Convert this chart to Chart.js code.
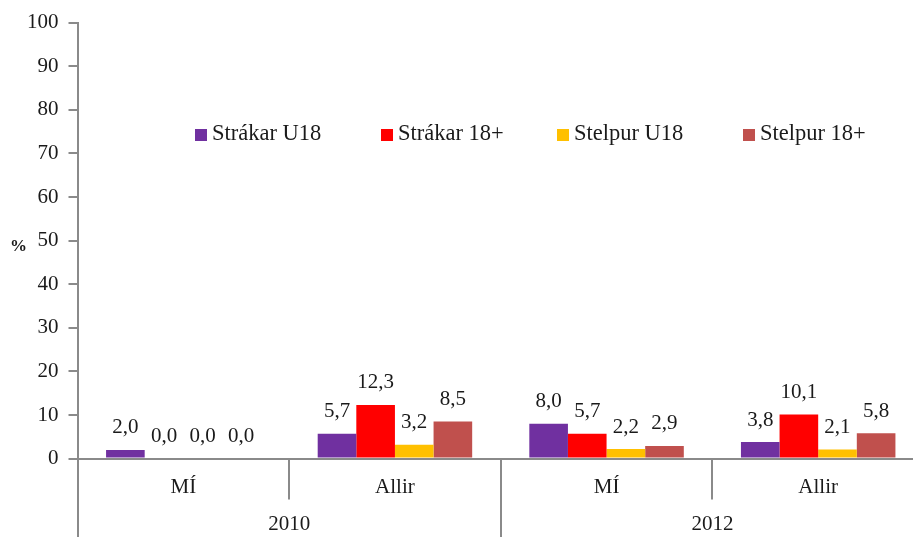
<!DOCTYPE html>
<html>
<head>
<meta charset="utf-8">
<script src="https://cdn.jsdelivr.net/npm/chart.js@4.4.1/dist/chart.umd.min.js"></script>
<style>
  html, body { margin: 0; padding: 0; background: #fff; overflow: hidden; }
  #wrap { position: relative; width: 924px; height: 537px; }
</style>
</head>
<body>
<div id="wrap"><canvas id="chart"></canvas></div>
<script>
// Data
const groups = ["MÍ", "Allir", "MÍ", "Allir"];
const years = ["2010", "2012"];
const seriesNames = ["Strákar U18", "Strákar 18+", "Stelpur U18", "Stelpur 18+"];
const strakarU18 = [2.0, 5.7, 8.0, 3.8];
const strakar18 = [0.0, 12.3, 5.7, 10.1];
const stelpurU18 = [0.0, 3.2, 2.2, 2.1];
const stelpur18 = [0.0, 8.5, 2.9, 5.8];
const seriesColors = ["#7030A0", "#FF0000", "#FFC000", "#C0504D"];

const AXIS_COLOR = "#8a8a8a";
const TEXT_COLOR = "#1a1a1a";
const FONT = "'Liberation Serif', 'Times New Roman', serif";
// legend item left edges (px)
const LEGEND_X = [195, 381, 557, 743];

// Extra drawing: separators, value labels, legend, % label
const extrasPlugin = {
  id: "extras",
  afterDatasetsDraw(chart) {
    const ctx = chart.ctx;
    // value labels above bars
    ctx.save();
    ctx.font = "21px " + FONT;
    ctx.fillStyle = TEXT_COLOR;
    ctx.textAlign = "center";
    ctx.textBaseline = "middle";
    chart.data.datasets.forEach((ds, di) => {
      const meta = chart.getDatasetMeta(di);
      meta.data.forEach((bar, i) => {
        ctx.fillText(ds.data[i].toFixed(1).replace(".", ","), bar.x, bar.y - 22);
      });
    });
    ctx.restore();
  },
  afterDraw(chart) {
    const ctx = chart.ctx;
    const area = chart.chartArea;
    const catW = (area.right - area.left) / groups.length;

    // group separators below the axis
    ctx.save();
    ctx.strokeStyle = AXIS_COLOR;
    ctx.lineWidth = 2;
    for (let i = 0; i <= groups.length; i++) {
      const px = Math.round(area.left + i * catW);
      const outer = i % 2 === 0;
      ctx.beginPath();
      ctx.moveTo(px, area.bottom);
      ctx.lineTo(px, outer ? chart.height : area.bottom + 41);
      ctx.stroke();
    }
    ctx.restore();

    // legend
    ctx.save();
    ctx.font = "22.5px " + FONT;
    ctx.textBaseline = "middle";
    ctx.textAlign = "left";
    seriesNames.forEach((name, i) => {
      const lx = LEGEND_X[i];
      ctx.fillStyle = seriesColors[i];
      ctx.fillRect(lx, 129, 12, 12);
      ctx.fillStyle = TEXT_COLOR;
      ctx.fillText(name, lx + 17, 134);
    });
    ctx.restore();

    // y axis unit
    ctx.save();
    ctx.font = "bold 17px " + FONT;
    ctx.fillStyle = TEXT_COLOR;
    ctx.textAlign = "left";
    ctx.textBaseline = "middle";
    ctx.fillText("%", 10, 247);
    ctx.restore();
  }
};

const datasets = [strakarU18, strakar18, stelpurU18, stelpur18].map((vals, i) => ({
  label: seriesNames[i],
  data: vals,
  backgroundColor: seriesColors[i],
  borderWidth: 0,
  categoryPercentage: 0.73,
  barPercentage: 1.0,
}));

new Chart(document.getElementById("chart"), {
  type: "bar",
  data: { labels: groups, datasets: datasets },
  options: {
    responsive: true,
    maintainAspectRatio: false,
    animation: false,
    layout: { padding: { left: 17, top: 7, right: 0, bottom: 3 } },
    plugins: {
      legend: { display: false },
      tooltip: { enabled: false },
    },
    scales: {
      y: {
        min: 0,
        max: 100,
        ticks: {
          stepSize: 10,
          color: TEXT_COLOR,
          font: { family: FONT, size: 21 },
          padding: 10,
        },
        grid: {
          drawOnChartArea: false,
          drawTicks: true,
          tickLength: 9,
          color: AXIS_COLOR,
          lineWidth: 2,
        },
        border: { color: AXIS_COLOR, width: 2 },
      },
      x: {
        ticks: {
          color: TEXT_COLOR,
          font: { family: FONT, size: 21 },
          padding: 16,
        },
        grid: { display: false, drawTicks: false },
        border: { color: AXIS_COLOR, width: 2 },
      },
      x2: {
        type: "category",
        labels: years,
        position: "bottom",
        offset: true,
        ticks: {
          color: TEXT_COLOR,
          font: { family: FONT, size: 21 },
          padding: -3.5,
        },
        grid: { display: false, drawTicks: false },
        border: { display: false },
      },
    },
  },
  plugins: [extrasPlugin],
});
</script>
</body>
</html>
